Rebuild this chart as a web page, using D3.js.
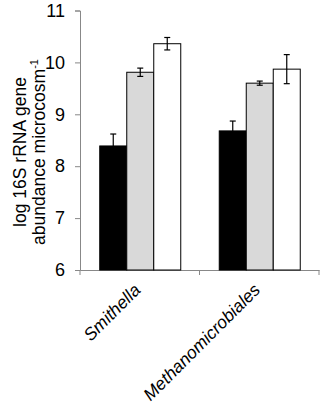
<!DOCTYPE html>
<html>
<head>
<meta charset="utf-8">
<script src="https://cdn.jsdelivr.net/npm/d3@7"></script>
<style>
  body { margin: 0; background: #fff; }
  text { font-family: "Liberation Sans", Arial, sans-serif; }
</style>
</head>
<body>
<svg id="chart" width="323" height="407"></svg>
<script>
const categories = ['Smithella', 'Methanomicrobiales'];
const treatments = ['t1', 't2', 't3'];
const means = [
  [8.39, 9.81, 10.36],
  [8.68, 9.60, 9.87]
];
const errors = [
  [0.23, 0.08, 0.12],
  [0.19, 0.04, 0.28]
];
const yTicks = [6, 7, 8, 9, 10, 11];
const fills = ['#000000', '#d9d9d9', '#ffffff'];

const svg = d3.select('#chart');
const plotLeft = 80, plotRight = 319, plotTop = 10.5, plotBottom = 270;

const x = d3.scaleBand().domain(categories).range([plotLeft, plotRight]);
const xi = d3.scaleBand().domain(treatments).range([0, 81]);
const y = d3.scaleLinear().domain([6, 11]).range([plotBottom, plotTop]);

// y axis
const yAxis = svg.append('g')
  .attr('transform', `translate(${plotLeft},0)`)
  .call(d3.axisLeft(y).tickValues(yTicks).tickSize(5).tickFormat(d3.format('d')));
yAxis.select('.domain').attr('stroke', '#888');
yAxis.selectAll('.tick line').attr('stroke', '#888');
yAxis.selectAll('.tick text')
  .attr('x', -15)
  .attr('fill', '#000')
  .style('font-size', '18px')
  .style('font-family', '"Liberation Sans", Arial, sans-serif');

// x axis
const xAxis = svg.append('g')
  .attr('transform', `translate(0,${plotBottom})`)
  .call(d3.axisBottom(x).tickValues([]).tickSizeOuter(0));
xAxis.select('.domain').attr('stroke', '#888');
// category separators
svg.append('g').selectAll('line')
  .data(categories.concat(['end']))
  .join('line')
  .attr('x1', (d, i) => plotLeft + i * x.bandwidth())
  .attr('x2', (d, i) => plotLeft + i * x.bandwidth())
  .attr('y1', plotBottom)
  .attr('y2', plotBottom + 5)
  .attr('stroke', '#888');

// bars
const groups = svg.append('g').selectAll('g')
  .data(categories)
  .join('g')
  .attr('transform', d => `translate(${x(d) + (x.bandwidth() - 81) / 2},0)`);

groups.each(function(cat, ci) {
  const g = d3.select(this);
  const rows = treatments.map((t, ti) => ({ t, ti, v: means[ci][ti], e: errors[ci][ti] }));
  g.selectAll('rect')
    .data(rows)
    .join('rect')
    .attr('x', d => xi(d.t) + 0.5)
    .attr('y', d => y(d.v))
    .attr('width', xi.bandwidth())
    .attr('height', d => plotBottom - y(d.v))
    .attr('fill', d => fills[d.ti])
    .attr('stroke', '#000')
    .attr('stroke-width', 1);

  const eb = g.selectAll('g.err')
    .data(rows)
    .join('g')
    .attr('class', 'err')
    .attr('stroke', '#000')
    .attr('stroke-width', 1.2);
  const cx = d => xi(d.t) + xi.bandwidth() / 2 + 0.5;
  eb.append('line')
    .attr('x1', cx).attr('x2', cx)
    .attr('y1', d => y(d.v + d.e))
    .attr('y2', d => y(d.v - d.e));
  eb.append('line')
    .attr('x1', d => cx(d) - 3).attr('x2', d => cx(d) + 3)
    .attr('y1', d => y(d.v + d.e))
    .attr('y2', d => y(d.v + d.e));
  eb.append('line')
    .attr('x1', d => cx(d) - 3).attr('x2', d => cx(d) + 3)
    .attr('y1', d => y(d.v - d.e))
    .attr('y2', d => y(d.v - d.e));
});

// category labels
svg.append('g').selectAll('text')
  .data(categories)
  .join('text')
  .attr('transform', d => `translate(${x(d) + x.bandwidth() / 2 + 2},${plotBottom + 21}) rotate(-45)`)
  .attr('text-anchor', 'end')
  .style('font-size', '17.5px')
  .style('font-style', 'italic')
  .text(d => d);

// y label
const yl = svg.append('text')
  .attr('transform', `translate(26,152) rotate(-90)`)
  .attr('text-anchor', 'middle')
  .style('font-size', '17.5px');
yl.append('tspan').attr('x', 0).attr('dy', 0).text('log 16S rRNA gene');
yl.append('tspan').attr('x', 0).attr('dy', 18.5).text('abundance microcosm');
yl.append('tspan').attr('dy', -7).style('font-size', '11px').text('-1');
</script>
</body>
</html>
